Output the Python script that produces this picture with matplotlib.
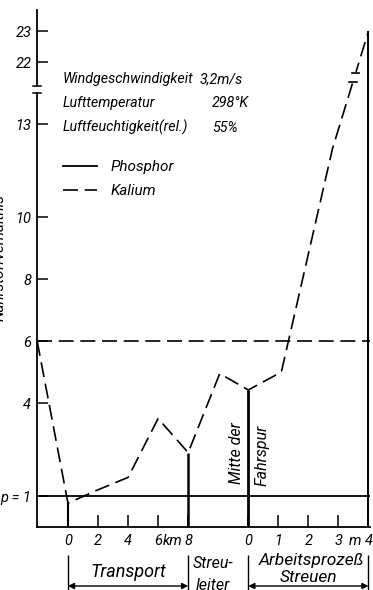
import numpy as np
import matplotlib
matplotlib.use('Agg')
import matplotlib.pyplot as plt
from matplotlib.transforms import blended_transform_factory

plt.rcParams['font.family'] = ['Roboto', 'DejaVu Sans']
plt.rcParams['font.style'] = 'italic'
plt.rcParams['font.size'] = 11

# Kalium-Verhaeltnis entlang Transport (km)
lager_km = -2.05
kalium_lager = 6.0
transport_km = [0, 2, 4, 6, 8]
kalium_transport = [0.77, 1.2, 1.6, 3.5, 2.4]
# Streuleiter
streuleiter_pos = 10.1
kalium_streuleiter = 4.95
# Arbeitsprozess Streuen (m ab Mitte der Fahrspur)
streuen_m = [0, 1.1, 2.8, 4.0]
kalium_streuen = [4.42, 5.0, 12.2, 23.0]

phosphor_wert = 1.0
kalium_ausgang = 6.0

y_ticks = [1, 4, 6, 8, 10, 13, 22, 23]
y_labels = ['p = 1', '4', '6', '8', '10', '13', '22', '23']
km_ticks = [0, 2, 4, 6, 8]
m_ticks = [0, 1, 2, 3, 4]

info_names = ['Windgeschwindigkeit', 'Lufttemperatur', 'Luftfeuchtigkeit(rel.)']
info_values = ['3,2m/s', '298°K', '55%']


def m_to_x(m):
    # Streuleiter belegt 8..12, danach 2 Einheiten je Meter
    return 12 + 2 * np.asarray(m, dtype=float)


# unterbrochene y-Achse 13 ... 22
def fwd(v):
    v = np.asarray(v, dtype=float)
    return np.where(v <= 13, v, np.where(v >= 22, v - 7, 13 + (v - 13) * 2 / 9))


def inv(t):
    t = np.asarray(t, dtype=float)
    return np.where(t <= 13, t, np.where(t >= 15, t + 7, 13 + (t - 13) * 4.5))


W, H = 373, 590
def fx(px):
    return px / W
def fy(py):
    return 1 - py / H


fig = plt.figure(figsize=(W / 100, H / 100), dpi=100)
ax = fig.add_axes([fx(37), fy(527), fx(370) - fx(37), (527 - 10) / H])
ax.set_yscale('function', functions=(fwd, inv))
ax.set_xlim(-2.06, 20.1)
ax.set_ylim(0, float(inv(16.68)))

for s in ['left', 'top', 'right']:
    ax.spines[s].set_visible(False)
ax.spines['bottom'].set_linewidth(1.3)

x_k = [lager_km] + transport_km + [streuleiter_pos] + list(m_to_x(streuen_m))
y_k = [kalium_lager] + kalium_transport + [kalium_streuleiter] + kalium_streuen
ka, = ax.plot(x_k, y_k, color='k', lw=1.2, dashes=(9, 4), label='Kalium')
ax.axhline(kalium_ausgang, color='k', lw=1.2, dashes=(9, 4))
ph = ax.axhline(phosphor_wert, color='k', lw=1.3, label='Phosphor')

ax.vlines(transport_km[0], 0, kalium_transport[0], color='k', lw=1.5)
ax.vlines(transport_km[-1], 0, kalium_transport[-1], color='k', lw=1.8)
ax.vlines(m_to_x(streuen_m[0]), 0, kalium_streuen[0], color='k', lw=2.0)
ax.vlines(m_to_x(streuen_m[-1]), 0, kalium_streuen[-1], color='k', lw=1.4)

# Bruchzeichen auf der Kaliumkurve
tk = fwd(y_k[-2:])
tb = np.array([14.38, 14.62])
ax.plot(np.interp(tb, tk, x_k[-2:]), inv(tb), color='white', lw=3)
for t in [14.35, 14.65]:
    xb = np.interp(t, tk, x_k[-2:])
    ax.plot([xb - 0.25, xb + 0.25], [inv(t), inv(t)], color='k', lw=1.2)

# linke Achse mit Bruch
ymax_t = 16.68
ax.plot([0, 0], [0, 14.0 / ymax_t], transform=ax.transAxes, color='k', lw=1.3, clip_on=False)
ax.plot([0, 0], [14.23 / ymax_t, 1], transform=ax.transAxes, color='k', lw=1.3, clip_on=False)
for t in [14.0, 14.23]:
    ax.plot([-0.012, 0.012], [t / ymax_t] * 2, transform=ax.transAxes, color='k', lw=1.1, clip_on=False)

ax.set_yticks(y_ticks)
ax.set_yticklabels(y_labels)
ax.minorticks_off()
ax.tick_params(axis='y', direction='in', length=8, width=1.1, pad=4, labelsize=10.5)

ax.set_xticks(list(km_ticks) + list(m_to_x(m_ticks)))
ax.set_xticklabels([str(k) for k in km_ticks] + [str(m) for m in m_ticks])
ax.tick_params(axis='x', direction='in', length=9, width=1.1, pad=5, labelsize=10.5)
tx = blended_transform_factory(ax.transData, ax.transAxes)
ax.text(6.3, -0.0134, 'km', transform=tx, ha='left', va='top', fontsize=10.5)
ax.text(19.1, -0.0134, 'm', transform=tx, ha='center', va='top', fontsize=10.5)

ax.text(11.2, 2.4, 'Mitte der', rotation=90, ha='center', va='center', fontsize=11.5)
ax.text(12.9, 2.3, 'Fahrspur', rotation=90, ha='center', va='center', fontsize=11.5)

# Versuchsbedingungen
for name, val, yb, xv in zip(info_names, info_values, [83, 107, 132], [200, 212, 212]):
    fig.text(fx(63), fy(yb), name, va='baseline', fontsize=10.3)
    fig.text(fx(xv), fy(yb), val, va='baseline', fontsize=10.3)

ax.legend(handles=[ph, ka], loc='upper left', bbox_to_anchor=(fx(63), fy(160)),
          bbox_transform=fig.transFigure, frameon=False, borderpad=0, borderaxespad=0,
          handlelength=2.2, handletextpad=0.9, labelspacing=0.65, fontsize=11)

fig.text(fx(0), fy(258), 'Nährstoffverhältnis', rotation=90, ha='center', va='center', fontsize=11)

# Abschnitte unter der Achse
tb2 = blended_transform_factory(ax.transData, fig.transFigure)
grenzen = [transport_km[0], transport_km[-1], float(m_to_x(0)), float(m_to_x(4))]
ax.vlines(grenzen, 0, fy(555), transform=tb2, color='k', lw=1.0, clip_on=False)
for a, b in [(grenzen[0], grenzen[1]), (grenzen[2], grenzen[3])]:
    ax.annotate('', xy=(a, fy(586)), xytext=(b, fy(586)), xycoords=tb2, textcoords=tb2,
                arrowprops=dict(arrowstyle='<|-|>', color='k', lw=1.0, mutation_scale=9,
                                shrinkA=0, shrinkB=0), annotation_clip=False)
ax.text(4, fy(572), 'Transport', transform=tb2, ha='center', va='center', fontsize=13)
ax.text(9.65, fy(563), 'Streu-', transform=tb2, ha='center', va='center', fontsize=11.5)
ax.text(9.65, fy(585), 'leiter', transform=tb2, ha='center', va='center', fontsize=11.5)
ax.text(16.2, fy(561), 'Arbeitsprozeß', transform=tb2, ha='center', va='center', fontsize=12.5)
ax.text(16.0, fy(578), 'Streuen', transform=tb2, ha='center', va='center', fontsize=12.5)

fig.savefig('out.png', dpi=100)
